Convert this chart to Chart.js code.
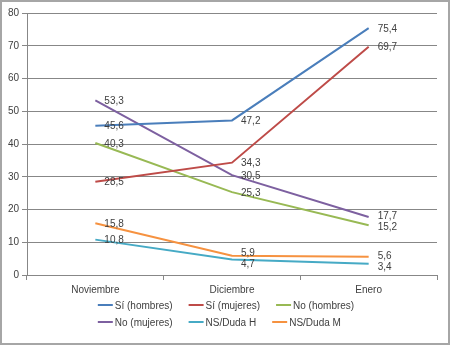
<!DOCTYPE html>
<html>
<head>
<meta charset="utf-8">
<script src="https://cdn.jsdelivr.net/npm/chart.js@4"></script>
<style>
    html, body { margin: 0; padding: 0; background: #ffffff; }
    #wrap {
        width: 450px; height: 345px; box-sizing: border-box;
        border: 2px solid #a6a6a6; background: #ffffff;
    }
    #wrap canvas { display: block; }
</style>
</head>
<body>
<div id="wrap"><canvas id="votoChart" width="446" height="341"></canvas></div>
<script>
    'use strict';

    // datos
    const months = ['Noviembre', 'Diciembre', 'Enero'];
    const siHombres = [45.6, 47.2, 75.4];
    const siMujeres = [28.5, 34.3, 69.7];
    const noHombres = [40.3, 25.3, 15.2];
    const noMujeres = [53.3, 30.5, 17.7];
    const nsDudaH = [10.8, 4.7, 3.4];
    const nsDudaM = [15.8, 5.9, 5.6];
    const yTicks = [0, 10, 20, 30, 40, 50, 60, 70, 80];

    const FONT = '"Liberation Sans", Arial, sans-serif';
    const TEXT = '#404040';

    const series = [
        { label: 'Sí (hombres)', data: siHombres, color: '#4a7ebb' },
        { label: 'Sí (mujeres)', data: siMujeres, color: '#be4b48' },
        { label: 'No (hombres)', data: noHombres, color: '#98b954' },
        { label: 'No (mujeres)', data: noMujeres, color: '#7d60a0' },
        { label: 'NS/Duda H', data: nsDudaH, color: '#46aac5' },
        { label: 'NS/Duda M', data: nsDudaM, color: '#f69240' }
    ];

    // etiquetas de valores a la derecha de cada punto (se separan si chocan)
    const valueLabels = {
        id: 'valueLabels',
        afterDatasetsDraw(chart) {
            const ctx = chart.ctx;
            const MIN_GAP = 11;
            ctx.save();
            ctx.font = '10px ' + FONT;
            ctx.fillStyle = TEXT;
            ctx.textAlign = 'left';
            ctx.textBaseline = 'middle';
            chart.data.labels.forEach((_, j) => {
                const items = chart.data.datasets.map((ds, i) => {
                    const pt = chart.getDatasetMeta(i).data[j];
                    return { x: pt.x, y: pt.y, txt: ds.data[j].toFixed(1).replace('.', ',') };
                }).sort((a, b) => a.y - b.y);
                // separar pares demasiado juntos
                for (let k = 1; k < items.length; k++) {
                    const a = items[k - 1], b = items[k];
                    if (b.y - a.y < MIN_GAP) {
                        const mid = (a.y + b.y) / 2;
                        a.y = mid - MIN_GAP / 2;
                        b.y = mid + MIN_GAP / 2;
                    }
                }
                items.forEach(it => ctx.fillText(it.txt, it.x + 9, it.y + 1));
            });
            ctx.restore();
        }
    };

    // leyenda estilo Excel: 3 elementos por fila, bloque centrado
    const excelLegend = {
        id: 'excelLegend',
        afterDraw(chart) {
            const ctx = chart.ctx;
            const dss = chart.data.datasets;
            const rows = [[0, 1, 2], [3, 4, 5]];
            const rowY = [303, 320];
            const LINE = 15, GAP = 2, ITEM_GAP = 16;
            ctx.save();
            ctx.font = '10px ' + FONT;
            ctx.textBaseline = 'middle';
            ctx.textAlign = 'left';
            const rowWidths = rows.map(row => row.map(i => LINE + GAP + ctx.measureText(dss[i].label).width));
            const totals = rowWidths.map(w => w.reduce((a, b) => a + b, 0) + ITEM_GAP * (w.length - 1));
            const startX = 224 - Math.max(...totals) / 2;
            rows.forEach((row, r) => {
                let x = startX;
                row.forEach((i, k) => {
                    const y = rowY[r];
                    ctx.strokeStyle = dss[i].borderColor;
                    ctx.lineWidth = 2;
                    ctx.beginPath();
                    ctx.moveTo(x, y);
                    ctx.lineTo(x + LINE, y);
                    ctx.stroke();
                    ctx.fillStyle = TEXT;
                    ctx.fillText(dss[i].label, x + LINE + GAP, y + 1);
                    x += rowWidths[r][k] + ITEM_GAP;
                });
            });
            ctx.restore();
        }
    };

    new Chart(document.getElementById('votoChart').getContext('2d'), {
        type: 'line',
        data: {
            labels: months,
            datasets: series.map(s => ({
                label: s.label,
                data: s.data,
                borderColor: s.color,
                backgroundColor: s.color,
                borderWidth: 2,
                pointRadius: 0,
                pointHoverRadius: 0,
                tension: 0,
                fill: false
            }))
        },
        options: {
            responsive: false,
            animation: false,
            layout: { padding: { left: 0, right: 11, top: 11, bottom: 0 } },
            plugins: {
                legend: { display: false },
                tooltip: { enabled: false }
            },
            scales: {
                x: {
                    offset: true,
                    afterFit(scale) { scale.height = 68; },
                    grid: {
                        display: true,
                        offset: true,
                        drawOnChartArea: false,
                        drawTicks: true,
                        tickLength: 5,
                        color: '#878787'
                    },
                    border: { color: '#878787', width: 1 },
                    ticks: {
                        color: TEXT,
                        font: { family: FONT, size: 10 },
                        padding: 4,
                        maxRotation: 0
                    }
                },
                y: {
                    min: 0,
                    max: 80,
                    afterFit(scale) { scale.width = 25; },
                    afterBuildTicks(scale) { scale.ticks = yTicks.map(v => ({ value: v })); },
                    grid: {
                        color: '#878787',
                        lineWidth: 1,
                        drawTicks: true,
                        tickLength: 5
                    },
                    border: { color: '#878787', width: 1 },
                    ticks: {
                        color: TEXT,
                        font: { family: FONT, size: 10 },
                        padding: 3
                    }
                }
            }
        },
        plugins: [valueLabels, excelLegend]
    });
</script>
</body>
</html>
